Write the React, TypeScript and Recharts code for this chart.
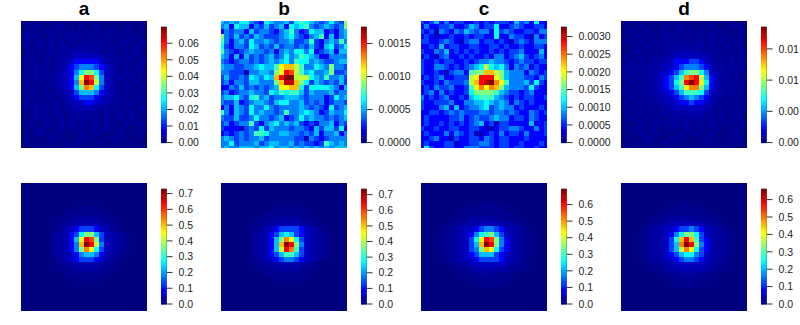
import React from 'react';
import { ScatterChart, Scatter, XAxis, YAxis, ReferenceArea } from 'recharts';

// Each cell is one character: a level on the 0..16 (g) colour scale, with u/v/w = 0.25/0.5/0.75.
const topA = [
  '0uu00u0uu00uu0u0u000u00u00', 'u0uvu0uuvuu0vuuvu0uu0uu0u0', '0uvuuvuvuuvuuvuvuuvuuvu0uu',
  'uvuvu0vuuvuvvuvuuvuvuuvuu0', 'uuvuvuvuvuvuvuvvuvuuvvuuvu', 'uvuuvuvuvvuvvvvvvuvuvuuvuu',
  '0uvuvuvuvvvwwwvvvuvuuvuvu0', 'uuvuuvuvvvw11111wvvuvuvuuv', 'uvuvuvuvvw1222221wvvuvuuvu',
  'uvuvuvuvvw23444321wvuvuuvu', 'vuuvuvuvw124688631wvuvuvuu', 'uvuvuvvvw125aed841wvvuvuuv',
  'uuvuvuvvw124bge941wvuvuvuu', 'uvuvuvuvw1258cb631wvuvuuvu', 'vuvuuvuvvw13555421wvuvuvuu',
  'uuvuvuvuvv1233321wvvuvuuvu', 'uvuvuvuvuvw112211wvuvuvuuv', 'uvuvuvuvuvvwwwwwvvuvuvuuvu',
  '0uuvuvuvuuvvvvvvuvuvuuvuuv', 'u0uvuvuuvuvuvvuvuvuuvuvu0u', 'uuv0uvuuvuvuvuuvuvuu0vuuvu',
  '0uuvuu0uvuuvuuvuuvuuvu0uuv', 'u0uuvuuvu0uuvuuvu0uuv0uuu0', '0uu0uuvuuu0uuvuu0uuvuu0uu0',
  'uu0uu0uu0uuvuu0uuu0uu0uu0u', '0u0u00u00u0u0u0u0u00u00u0u',
];
const topB = [
  '54546643265445367654346438', '45265524353452656743454348', '24344253443245742365523245',
  '84353435433345643245725245', '74245364454344533473245474', '63244365343534434353256346',
  '74323454434245466462345255', '54252534345346457654224444', '43234434345456476645433455',
  '544334456557abb97446548443', '443331445548aed97564458334', '35334365465begg99965474453',
  '342443554448bffb8635434353', '224353434345aabb6366665425', '34234454436576775354445344',
  '45564367453445554344423645', '43352345543566445343423443', '24254364464344445434326345',
  '74254364544347445654235446', '43353346443452346454434345', '34234473245645453232445243',
  '32221343635444344325355362', '23234347764455443435244524', '45434344534444433143234444',
  '44634445345544534332375454', '45445554556455454545454555',
];
const topC = [
  '32352423322323233325342622', '24223342235423362234322332', '32314324354344263432233244',
  '23212232232332262243321423', '33223432134423323213432444', '22325233223322332322322332',
  '32243523232322323233422252', '23213422323223244234532342', '32232332232344544323433233',
  '32244323234569656424342322', '3223213442788bb98544424323', '23234223339aeeea8544433243',
  '32232433349befgca744453632', '23243342237acacb8544436322', '23424232236888875433234222',
  '42323422325677754323233223', '32233342244556545424323222', '32224525234456345442322232',
  '22332343433344344343224323', '23222233423433454423324322', '23223232323452313322225223',
  '32232233223321123344322423', '23222424323112324233242223', '22342213223324323322232222',
  '23222331223344323322322232', '26322332244433323323322322',
];
const topD = [
  '0u0uu00uu0uu0000uu0u00u00u', 'uu0uvuu0uvuuvuu0uuvu0uuvu0', '0uvuuvu0vuuvuuvuvuuvuu0uvu',
  'u0uvuuvuuvuvuvuvuuvuuvuuu0', 'uuvuvuuvuvvuvvuvvuvuvuuvuu', 'u0uvuvuuvuvvvvvvvuvuuvuvu0',
  'u0uvuvuvuvvwwwwwvvuvuvuuvu', 'uvuuvuvuvvw11111wwvuvuvuuv', 'uuvuvuvvvw12223321wvvuvuvu',
  'uvuvuvvvw112344432wvvuvuvu', 'vuvuvvvw11235788641wvvuvuu', 'uvuvuvvw12357cde952wvvuvuv',
  'uuvuvvvw12368egea62wvuvuvu', 'uvuvuvvw12357acc852wvvuvuu', 'vuvuvvvw11235777631wvuvuvu',
  'uuvuvuvvw112345432wvvuvuuv', 'uvuvuvuvvw11223221wvuvuvuu', 'uuvuvuvuvvw111111wvuvuvuuv',
  'uvuuvuvuvvvwwwwwwvvuvuuvuu', '0uvuuvuvuuvvvvvvvuvuvuuvu0', 'uu0uvuuvuvuvuvuvuuvuuvu0uu',
  '0uuvuuvu0uvuuvuuvuuvu0uvuu', 'u0uuvuuvuu0uvuuvuuvu0uuv0u', '0uu0uvuu0uuvuu0uuvuu0uuvu0',
  'u0uu0uu0uvuu0uu0uuvuu0uu0u', '0u00u0u00u0u00u0u0u00u0u00',
];
const Z = '00000000000000000000000000';
const bottomA = [
  Z, Z, Z, Z, Z,
  '00000000000uuuuu0000000000', '000000000uuuuuuuuu00000000', '00000000uuuvvvvvuuu0000000',
  '0000000uuvvwwwwwvvuu000000', '0000000uvw1233321wvu000000', '000000uvvw23688531wvvu0000',
  '000000uvvw25aed831wvvu0000', '000000uvvw24bge941wvvu0000', '000000uvvw248ca631wvvu0000',
  '000000uvvw1245542wvvu00000', '0000000uvw1233321wvu000000', '0000000uuvvwwwwwvvuu000000',
  '00000000uuuvvvvvuuu0000000', '000000000uuuuuuuuu00000000', '00000000000uuuuu0000000000',
  Z, Z, Z, Z, Z, Z,
];
const bottomB = [
  Z, Z, Z, Z, Z,
  '00000000000uuuuu0000000000', '000000000uuuuuuuuu00000000', '00000000uuuvvvvvuuu0000000',
  '0000000uuvvwwwwwvvuu000000', '0000000uvw12333321wvu00000', '000000uvvw23565321wvvu0000',
  '000000uvvw258ca631wvvu0000', '000000uvvw25bge841wvvu0000', '000000uvvw259ec731wvvu0000',
  '000000uvvw23577531wvvu0000', '0000000uvw12344321wvu00000', '0000000uuvvwwwwwvvuu000000',
  '00000000uuuvvvvvuuu0000000', '000000000uuuuuuuuu00000000', '00000000000uuuuu0000000000',
  Z, Z, Z, Z, Z, Z,
];
const bottomC = [
  Z, Z, Z, Z,
  '000000000000uuu00000000000', '0000000000uuuuuuu000000000', '00000000uuuuuuuuuuu0000000',
  '0000000uuuvvvvvvuuuu000000', '000000uuvvwww1wwwvvuu00000', '00000uvvw112344321wvvu0000',
  '0000uuvvw124678531wvvuu000', '0000uuvvw136aed842wvvuu000', '000uuuvvw135bge842wvvuu000',
  '0000uuvvw1348ba632wvvuu000', '0000uuvvw123555321wvvuu000', '00000uvvw112333321wvvu0000',
  '000000uuvvw111111wvvuu0000', '0000000uuuvvwwwvvvuuu00000', '00000000uuuuvvvuuuu0000000',
  '0000000000uuuuuuuu00000000', '000000000000uuuu0000000000',
  Z, Z, Z, Z, Z,
];
const bottomD = [
  Z, Z, Z, Z,
  '000000000000uu000000000000', '0000000000uuuuuuu000000000', '00000000uuuuuuuuuuu0000000',
  '0000000uuuvvvvvvuuuu000000', '000000uuvvwww1wwwvvuu00000', '00000uvvw112334321wvvu0000',
  '0000uuvvw124688631wvvuu000', '0000uuvvw136beb732wvvuu000', '0000uuvvw135cge842wvvuu000',
  '0000uuvvw1359ca632wvvuu000', '0000uuvvw123566431wvvuu000', '00000uvvw112344321wvvu0000',
  '000000uuvvw111111wvvuu0000', '000000uuuvvwwwwwwvvuuu0000', '00000000uuuvvvvvuuu0000000',
  '0000000000uuuuuuuu00000000', '00000000000uuuuu0000000000',
  Z, Z, Z, Z, Z,
];

const titles = ['a', 'b', 'c', 'd'];
const topMax = [0.0698, 0.00175, 0.00327, 0.0148];
const bottomMax = [0.729, 0.736, 0.694, 0.661];
const topTicks = [
  [0, 0.01, 0.02, 0.03, 0.04, 0.05, 0.06],
  [0, 0.0005, 0.001, 0.0015],
  [0, 0.0005, 0.001, 0.0015, 0.002, 0.0025, 0.003],
  [0, 0.004, 0.008, 0.012],
];
const topDigits = [2, 4, 4, 2];
const bottomTicks = [
  [0, 0.1, 0.2, 0.3, 0.4, 0.5, 0.6, 0.7],
  [0, 0.1, 0.2, 0.3, 0.4, 0.5, 0.6, 0.7],
  [0, 0.1, 0.2, 0.3, 0.4, 0.5, 0.6],
  [0, 0.1, 0.2, 0.3, 0.4, 0.5, 0.6],
];
const panelLeft = [21.3, 221.3, 421.3, 621.3];
const rowTop = [20.7, 183.3];
const barTop = [18.7, 181.3];

const PW = 125.3;
const PH = 127.7;
const BAR_W = 5.5;
const BAR_H = [115.6, 115];
const AXIS_W = 46;
const FONT = '"Liberation Sans", Arial, sans-serif';
const CW = PW / 25;
const CH = PH / 25;

const LEVEL_CHARS = '0123456789abcdefg';
const levelOf = (c: string) => {
  if (c === 'u') return 0.25;
  if (c === 'v') return 0.5;
  if (c === 'w') return 0.75;
  const i = LEVEL_CHARS.indexOf(c);
  return i < 0 ? 0.25 : i;
};

const jet = (t: number) => {
  const ramp = (v: number) => Math.round(255 * Math.max(0, Math.min(1, v)));
  const r = ramp(Math.min(4 * t - 1.5, -4 * t + 4.5));
  const g = ramp(Math.min(4 * t - 0.5, -4 * t + 3.5));
  const b = ramp(Math.min(4 * t + 0.5, -4 * t + 2.5));
  return `rgb(${r},${g},${b})`;
};

const cellsFrom = (rows: string[], max: number) =>
  rows.flatMap((row, y) =>
    row.split('').map((c, x) => {
      const t = levelOf(c) / 16;
      return { x, y, value: t * max, color: jet(t) };
    })
  );

const CellShape = (p: any) => (
  <rect
    x={p.cx - CW / 2}
    y={p.cy - CH / 2}
    width={CW + 0.6}
    height={CH + 0.6}
    shapeRendering="crispEdges"
    fill={p.payload?.color ?? p.color}
  />
);

function Heat({ rows, max, left, top }: { rows: string[]; max: number; left: number; top: number }) {
  const data = cellsFrom(rows, max);
  return (
    <div style={{ position: 'absolute', left, top }}>
      <ScatterChart width={PW} height={PH} margin={{ top: 0, right: 0, bottom: 0, left: 0 }}>
        <XAxis type="number" dataKey="x" domain={[0, 25]} hide />
        <YAxis type="number" dataKey="y" domain={[0, 25]} reversed hide />
        <Scatter data={data} isAnimationActive={false} shape={CellShape} />
        <ReferenceArea x1={0} x2={25} y1={0} y2={25} fill="none" stroke="#4a56b4" strokeWidth={1.2} />
      </ScatterChart>
    </div>
  );
}

const COLOR_STEPS = 64;

function ColorBar({ max, ticks, digits, left, top, h }: { max: number; ticks: number[]; digits: number; left: number; top: number; h: number }) {
  const data = Array.from({ length: COLOR_STEPS }, (_, i) => ({
    x: 0.5,
    y: ((i + 0.5) / COLOR_STEPS) * max,
    color: jet((i + 0.5) / COLOR_STEPS),
  }));
  const Shape = (p: any) => (
    <rect
      x={p.cx - BAR_W / 2}
      y={p.cy - h / COLOR_STEPS / 2}
      width={BAR_W}
      height={h / COLOR_STEPS + 0.5}
      fill={p.payload?.color ?? p.color}
    />
  );
  return (
    <div style={{ position: 'absolute', left, top }}>
      <ScatterChart width={BAR_W + AXIS_W} height={h + 16} margin={{ top: 8, right: 0, bottom: 8, left: 0 }}>
        <XAxis type="number" dataKey="x" domain={[0, 1]} hide />
        <YAxis
          type="number"
          dataKey="y"
          orientation="right"
          domain={[0, max]}
          ticks={ticks}
          interval={0}
          width={AXIS_W}
          axisLine={false}
          tickSize={6}
          tickMargin={6}
          tickLine={{ stroke: '#333', strokeWidth: 1 }}
          tick={{ fontSize: 10.5, fontFamily: FONT, fill: '#222', textAnchor: 'start' }}
          tickFormatter={(v: number) => v.toFixed(digits)}
        />
        <Scatter data={data} isAnimationActive={false} shape={Shape} />
        <ReferenceArea x1={0} x2={1} y1={0} y2={max} fill="none" stroke="#222" strokeWidth={0.7} />
      </ScatterChart>
    </div>
  );
}

export default function App() {
  const tops = [topA, topB, topC, topD];
  const bottoms = [bottomA, bottomB, bottomC, bottomD];
  return (
    <div style={{ position: 'absolute', left: 0, top: 0, width: 800, height: 325, overflow: 'hidden', background: '#fff' }}>
      {titles.map((t, i) => (
        <div
          key={t}
          style={{
            position: 'absolute',
            left: panelLeft[i],
            width: PW,
            top: 0,
            textAlign: 'center',
            fontFamily: FONT,
            fontWeight: 700,
            fontSize: 19,
            lineHeight: '18px',
            color: '#000',
          }}
        >
          {t}
        </div>
      ))}
      {tops.map((rows, i) => (
        <Heat key={`t${i}`} rows={rows} max={topMax[i]} left={panelLeft[i]} top={rowTop[0]} />
      ))}
      {bottoms.map((rows, i) => (
        <Heat key={`b${i}`} rows={rows} max={bottomMax[i]} left={panelLeft[i]} top={rowTop[1]} />
      ))}
      {topMax.map((m, i) => (
        <ColorBar key={`ct${i}`} max={m} ticks={topTicks[i]} digits={topDigits[i]} left={panelLeft[i] + 140} top={barTop[0]} h={BAR_H[0]} />
      ))}
      {bottomMax.map((m, i) => (
        <ColorBar key={`cb${i}`} max={m} ticks={bottomTicks[i]} digits={1} left={panelLeft[i] + 140} top={barTop[1]} h={BAR_H[1]} />
      ))}
    </div>
  );
}
